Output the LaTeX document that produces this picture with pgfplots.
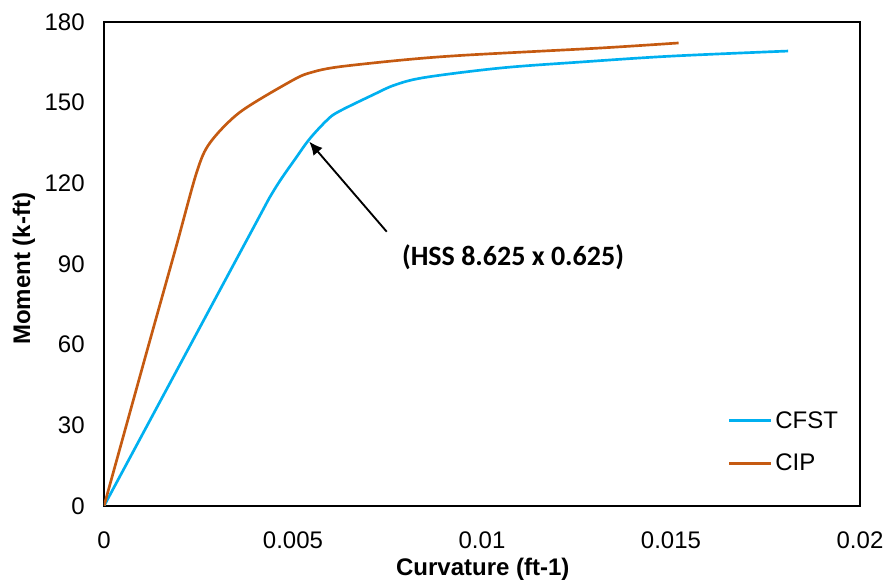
\documentclass[border=0pt]{standalone}
\usepackage{pgfplots}
\pgfplotsset{compat=1.18}
\usetikzlibrary{arrows.meta}
\usepackage{fontspec}
\setmainfont{Liberation Sans}
\newfontfamily\calibri{Carlito}
\definecolor{cfst}{HTML}{00B0F0}
\definecolor{cip}{HTML}{C55A11}
\begin{document}
\begin{tikzpicture}
\begin{axis}[
  scale only axis,
  width=567pt, height=363pt,
  xmin=0, xmax=0.02, ymin=0, ymax=180,
  scaled x ticks=false,
  xtick={0,0.005,0.01,0.015,0.02},
  xticklabels={0,0.005,0.01,0.015,0.02},
  ytick={0,30,60,90,120,150,180},
  yticklabels={0,30,60,90,120,150,180},
  major tick length=0pt,
  axis line style={line width=1.3pt},
  tick label style={font=\fontsize{18}{21}\selectfont},
  xticklabel style={yshift=-16pt},
  yticklabel style={xshift=-11pt},
  xlabel={\bfseries Curvature (ft-1)},
  ylabel={\bfseries Moment (k-ft)},
  label style={font=\fontsize{18}{21}\selectfont},
  xlabel style={at={(axis description cs:0.501,-0.13)}, anchor=center},
  ylabel style={at={(axis description cs:-0.1058,0.49)}, anchor=center},
  legend style={draw=none, fill=none, at={(rel axis cs:0.8254,0.132)}, anchor=west,
    inner sep=0pt, outer sep=0pt,
    font=\fontsize{18}{21}\selectfont, row sep=14pt,
    nodes={inner sep=2pt},
    legend cell align=left},
  legend image code/.code={\draw[#1, line width=2pt] (0pt,0pt) -- (31.5pt,0pt);},
]
\addplot[cfst, line width=2pt, smooth, tension=0.55] coordinates {
 (0,0) (0.0038,99.5) (0.0045,117.5) (0.0051,129.9) (0.00545,136.7)
 (0.0059,143.5) (0.0062,146.6) (0.0071,152.8) (0.0077,156.6)
 (0.0085,159.4) (0.0105,162.9) (0.0126,165.1)
 (0.0150,167.3) (0.0181,169.2)
};
\addlegendentry{CFST}
\addplot[cip, line width=2pt, smooth, tension=0.5] coordinates {
 (0,0) (0.0011,55.8) (0.0019,96) (0.00245,124) (0.0028,135) (0.0036,146.5)
 (0.0050,158.4) (0.0055,161.3) (0.0062,163.3) (0.0080,166) (0.0096,167.7)
 (0.0131,170.3) (0.0152,172.2)
};
\addlegendentry{CIP}
\draw[-{Latex[length=10pt,width=9pt]}, line width=1.4pt] (axis cs:0.00748,102) -- (axis cs:0.00543,135.5);
\node[font=\calibri\fontsize{21}{24}\selectfont\bfseries] at (axis cs:0.01082,92.6) {(HSS 8.625 x 0.625)};
\end{axis}
\pgfresetboundingbox
\path (-78pt,-55.5pt) rectangle (590.25pt,379.5pt);
\end{tikzpicture}
\end{document}
